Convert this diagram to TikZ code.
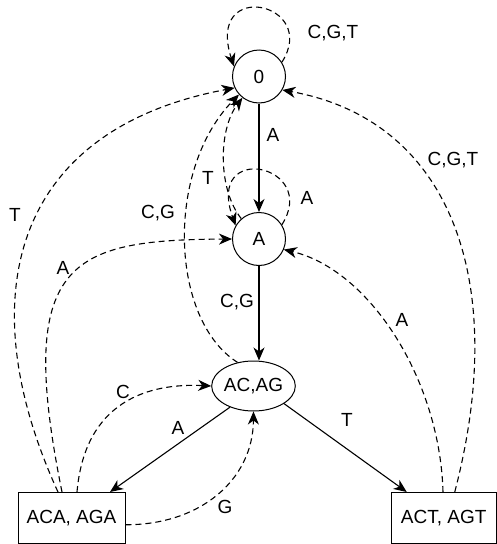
\documentclass[tikz,border=0pt]{standalone}
\usepackage{fontspec}
\setmainfont{Liberation Sans}
\usetikzlibrary{arrows.meta,shapes.geometric}
\begin{document}
\begin{tikzpicture}[x=1pt,y=-1pt,
  state/.style={draw,circle,minimum size=53pt,inner sep=0pt,line width=1pt},
  oval/.style={draw,ellipse,minimum width=73pt,minimum height=50pt,inner sep=0pt,line width=1pt},
  box/.style={draw,rectangle,minimum height=50.5pt,inner sep=0pt,line width=1pt},
  tr/.style={line width=1.1pt,-{Stealth[length=13pt,width=11pt,inset=4pt]}},
  back/.style={tr,dash pattern=on 6pt off 4pt},
  lbl/.style={inner sep=0pt},
  font=\fontsize{19}{22}\selectfont]
\useasboundingbox (0,0) rectangle (497,544);
\fill[white] (0,0) rectangle (497,544);

\node[state] (n0) at (259,76.5) {0};
\node[state] (nA) at (259,239) {A};
\node[oval] (e) at (253.5,386) {AC,AG};
\node[box,minimum width=107pt] (b1) at (71.5,517.75) {ACA, AGA};
\node[box,minimum width=105pt] (b2) at (443.75,517.75) {ACT, AGT};

% solid transitions
\draw[tr] (n0) -- (nA);
\draw[tr] (nA) -- (e.north -| nA);
\draw[tr] (e.222) -- ([xshift=38.5pt]b1.north);
\draw[tr] (e.330) -- ([xshift=-37pt]b2.north);

% self loops
\draw[back] (n0.32) .. controls (320,2.5) and (205,-22.5) .. (n0.158);
\draw[back] (nA.32) .. controls (320,165) and (205,140) .. (nA.150);

% back transitions
\draw[back] (nA.131) .. controls (218,190) and (218,130) .. (n0.232);
\draw[back] (e.124) .. controls (170,320) and (165,170) .. (n0.222);
\draw[back] ([xshift=-13.5pt]b1.north) .. controls (-30,300) and (10,130) .. (n0.205);
\draw[back] ([xshift=-9.5pt]b1.north) .. controls (15,260) and (70,240) .. (nA.180);
\draw[back] ([xshift=5.5pt]b1.north) .. controls (85,400) and (150,383) .. (e.west);
\draw[back] ([yshift=-7pt]b1.east) .. controls (200,525) and (253,480) .. (e.south);
\draw[back] ([xshift=-0.75pt]b2.north) .. controls (440,380) and (370,270) .. (nA.337);
\draw[back] ([xshift=11pt]b2.north) .. controls (510,280) and (450,120) .. (n0.330);

% labels
\node[lbl] (l1) at (333,33) {C,G,T};
\node[lbl] (l2) at (273,135) {A};
\node[lbl] (l3) at (208,178) {T};
\node[lbl] (l4) at (307,198) {A};
\node[lbl] (l5) at (158,213) {C,G};
\node[lbl] (l6) at (15,215) {T};
\node[lbl] (l7) at (63,268) {A};
\node[lbl] (l8) at (237,302) {C,G};
\node[lbl] (l9) at (453,160) {C,G,T};
\node[lbl] (l10) at (402,320) {A};
\node[lbl] (l11) at (123,392) {C};
\node[lbl] (l12) at (178,428) {A};
\node[lbl] (l13) at (347,420) {T};
\node[lbl] (l14) at (225,507) {G};
\end{tikzpicture}
\end{document}
